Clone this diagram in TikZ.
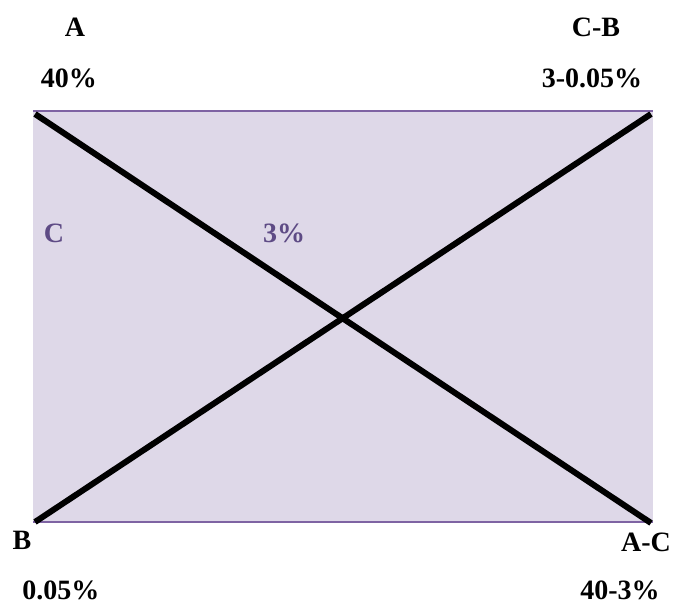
\documentclass[tikz,border=0pt]{standalone}
\usepackage{fontspec}
\setmainfont{Liberation Serif}
\definecolor{boxfill}{HTML}{DED8E8}
\definecolor{boxline}{HTML}{7E63A3}
\definecolor{lbl}{HTML}{5E4B85}
\begin{document}
\begin{tikzpicture}[x=1pt,y=-1pt,
  txt/.style={anchor=base,inner sep=0pt,font=\fontsize{28}{33}\selectfont\bfseries},
  inner/.style={txt,text=lbl},
  diag/.style={line width=6pt,black}]
\useasboundingbox (0,0) rectangle (673,606);
\fill[boxfill] (33,111) rectangle (653,522);
\draw[boxline,line width=2.5pt] (33,111) -- (653,111);
\draw[boxline,line width=2.5pt] (33,522) -- (653,522);
\coordinate (tl) at (35,114);
\coordinate (tr) at (651,114);
\coordinate (bl) at (35,522);
\coordinate (br) at (651,523);
\draw[diag] (tl) -- (br);
\draw[diag] (bl) -- (tr);
\node[txt] (a) at (75,36) {A};
\node[txt] (a40) at (69,87) {40\%};
\node[txt] (cb) at (596,36) {C-B};
\node[txt] (cbv) at (592,87) {3-0.05\%};
\node[txt] (b) at (22,549) {B};
\node[txt] (bv) at (61,599) {0.05\%};
\node[txt] (ac) at (646,551) {A-C};
\node[txt] (acv) at (620,599) {40-3\%};
\node[inner] (c) at (54,242) {C};
\node[inner] (c3) at (284,242) {3\%};
\end{tikzpicture}
\end{document}
